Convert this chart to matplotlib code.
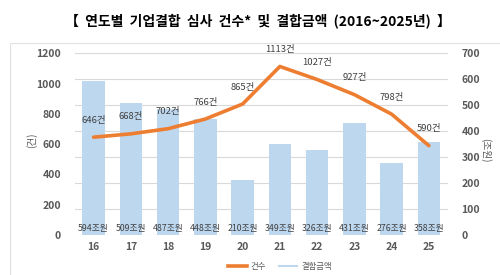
import matplotlib
matplotlib.use("Agg")
import matplotlib.pyplot as plt
from matplotlib.patches import Rectangle
from matplotlib.lines import Line2D

plt.rcParams['font.family'] = ['Noto Sans CJK KR', 'DejaVu Sans']

years = ['16', '17', '18', '19', '20', '21', '22', '23', '24', '25']
cases = [646, 668, 702, 766, 865, 1113, 1027, 927, 798, 590]
amounts = [594, 509, 487, 448, 210, 349, 326, 431, 276, 358]
left_ticks = [0, 200, 400, 600, 800, 1000, 1200]
right_ticks = [0, 100, 200, 300, 400, 500, 600, 700]

title = '【  연도별  기업결합  심사  건수*  및  결합금액  (2016~2025년)  】'

fig = plt.figure(figsize=(5, 2.75), dpi=100)
fig.patches.append(Rectangle((0.02, -0.1), 1.1, 0.943, transform=fig.transFigure,
                             fill=False, edgecolor='#E0E0E0', linewidth=0.8))

ax = fig.add_axes([0.15, 0.1455, 0.745, 0.6607])
ax2 = ax.twinx()

x = list(range(len(years)))
ax2.bar(x, amounts, width=0.6, color='#BDD7EE', zorder=1)
ax2.set_ylim(0, 700)
ax.set_ylim(0, 1200)
ax.set_xlim(-0.5, len(years) - 0.5)

ax.set_zorder(ax2.get_zorder() + 1)
ax.patch.set_visible(False)

ax.plot(x, cases, color='#ED7D31', linewidth=2.6, zorder=3, solid_capstyle='round')

for xi, v in zip(x, cases):
    ax.annotate(f'{v}건', (xi, v), xytext=(0, 9), textcoords='offset points',
                ha='center', va='bottom', fontsize=6.8, color='#404040')
for xi, v in zip(x, amounts):
    ax.text(xi, 12, f'{v}조원', ha='center', va='bottom', fontsize=6.3,
            color='#404040', zorder=4)

ax.set_yticks(left_ticks)
ax2.set_yticks(right_ticks)
ax.set_xticks(x)
ax.set_xticklabels(years)
ax.grid(False)
ax2.grid(False)

for a in (ax, ax2):
    for s in a.spines.values():
        s.set_visible(False)
    a.tick_params(length=0, labelsize=7.5, labelcolor='#595959')
for lab in ax.get_yticklabels() + ax2.get_yticklabels() + ax.get_xticklabels():
    lab.set_fontweight('bold')
ax.tick_params(axis='y', pad=10)
ax2.tick_params(axis='y', pad=10)
ax.tick_params(axis='x', pad=5)

for t in right_ticks:
    ax2.axhline(t, color='#D9D9D9', linewidth=0.8, zorder=0)

fig.text(0.064, 0.49, '(건)', rotation=90, ha='center', va='center', fontsize=7, color='#595959')
fig.text(0.972, 0.455, '(조원)', rotation=270, ha='center', va='center', fontsize=7, color='#595959')

fig.text(0.515, 0.925, title, ha='center', va='center', fontsize=10, fontweight='bold', color='#000000')

handles = [Line2D([0], [0], color='#ED7D31', linewidth=2.6),
           Line2D([0], [0], color='#BDD7EE', linewidth=1.5)]
fig.legend(handles, ['건수', '결합금액'], loc='center', bbox_to_anchor=(0.56, 0.03),
           ncol=2, frameon=False, fontsize=6, labelcolor='#595959',
           handlelength=2.2, columnspacing=1.5, handletextpad=0.5)

fig.savefig('out.png', dpi=100)
